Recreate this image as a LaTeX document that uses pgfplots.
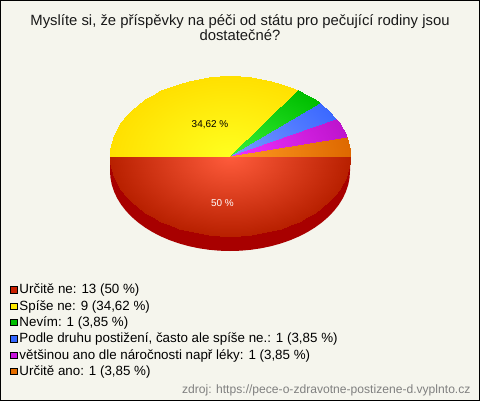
\documentclass[border=0pt]{standalone}
\usepackage{fontspec}
\setmainfont{Liberation Sans}
\usepackage{pgfplots}
\pgfplotsset{compat=1.18}
\definecolor{pagebg}{RGB}{245,245,237}
\definecolor{sidedark}{RGB}{168,0,0}
\definecolor{swred}{RGB}{200,32,0}
\definecolor{swyellow}{RGB}{255,235,0}
\definecolor{swgreen}{RGB}{0,190,0}
\definecolor{swblue}{RGB}{51,102,255}
\definecolor{swmagenta}{RGB}{200,20,220}
\definecolor{sworange}{RGB}{230,110,0}
\pgfplotsset{
    colormap={cred}{rgb255=(255,92,60) rgb255=(184,32,0)},
    colormap={cyellow}{rgb255=(255,255,32) rgb255=(255,224,0)},
    colormap={cgreen}{rgb255=(56,240,56) rgb255=(0,190,0)},
    colormap={cblue}{rgb255=(120,155,255) rgb255=(60,105,255)},
    colormap={cmagenta}{rgb255=(240,50,255) rgb255=(190,20,205)},
    colormap={corange}{rgb255=(255,155,35) rgb255=(222,105,0)},
    swatch/.style={legend image code/.code={
        \draw[black,line width=0.8bp,fill=#1] (0bp,-3.5bp) rectangle (6.5bp,3bp);}},
}

\begin{document}
\begin{tikzpicture}
    \begin{axis}[
        width=479bp, height=400bp, scale only axis,
        xmin=0.5, xmax=479.5,
        ymin=0.5, ymax=400.5,
        y dir=reverse,
        xtick=\empty, ytick=\empty,
        axis line style={black,line width=1bp},
        axis background/.style={fill=pagebg},
        clip=false,
        point meta min=0, point meta max=1,
        legend style={
            at={(axis cs:10,282)}, anchor=north west,
            draw=none, fill=none,
            font=\fontsize{13.4}{13.4}\selectfont,
            row sep=1.0bp,
            inner sep=0pt,
            /tikz/every even column/.style={column sep=3bp},
        },
        legend cell align=left,
        ]
        % side of the pie
        \addplot[fill=sidedark, draw=none, forget plot] coordinates {
            (110,156)(110,171)(110.46,177.97)(111.82,184.89)(114.09,191.71)(117.24,198.36)(121.24,204.81)
            (126.08,211)(131.70,216.89)(138.08,222.42)(145.15,227.57)(152.87,232.28)(161.17,236.53)
            (170,240.28)(179.29,243.50)(188.96,246.18)(198.94,248.27)(209.16,249.78)(219.54,250.70)
            (230,251)(240.46,250.70)(250.84,249.78)(261.06,248.27)(271.04,246.18)(280.71,243.50)
            (290,240.28)(298.83,236.53)(307.13,232.28)(314.85,227.57)(321.92,222.42)(328.30,216.89)
            (333.92,211)(338.76,204.81)(342.76,198.36)(345.91,191.71)(348.18,184.89)(349.54,177.97)
            (350,171)(350,156)
        };
        % red, 50 %
        \addplot[surf, shader=interp, colormap name=cred, mesh/rows=2, point meta=explicit, forget plot] coordinates {
            (230,156)[0](230,156)[0](230,156)[0](230,156)[0](230,156)[0](230,156)[0](230,156)[0](230,156)[0](230,156)[0]
            (230,156)[0](230,156)[0](230,156)[0](230,156)[0](230,156)[0](230,156)[0](230,156)[0](230,156)[0](230,156)[0]
            (230,156)[0](230,156)[0](230,156)[0](230,156)[0](230,156)[0](230,156)[0](230,156)[0](230,156)[0](230,156)[0]
            (230,156)[0](230,156)[0](230,156)[0](230,156)[0](230,156)[0](230,156)[0](230,156)[0](230,156)[0](230,156)[0]
            (230,156)[0]
            (110,156)[1](110.46,162.97)[1](111.82,169.89)[1](114.09,176.71)[1](117.24,183.36)[1](121.24,189.81)[1]
            (126.08,196)[1](131.70,201.89)[1](138.08,207.42)[1](145.15,212.57)[1](152.87,217.28)[1](161.17,221.53)[1]
            (170,225.28)[1](179.29,228.50)[1](188.96,231.18)[1](198.94,233.27)[1](209.16,234.78)[1](219.54,235.70)[1]
            (230,236)[1](240.46,235.70)[1](250.84,234.78)[1](261.06,233.27)[1](271.04,231.18)[1](280.71,228.50)[1]
            (290,225.28)[1](298.83,221.53)[1](307.13,217.28)[1](314.85,212.57)[1](321.92,207.42)[1](328.30,201.89)[1]
            (333.92,196)[1](338.76,189.81)[1](342.76,183.36)[1](345.91,176.71)[1](348.18,169.89)[1](349.54,162.97)[1]
            (350,156)[1]
        };
        % yellow, 34,62 %
        \addplot[surf, shader=interp, colormap name=cyellow, mesh/rows=2, point meta=explicit, forget plot] coordinates {
            (230,156)[0](230,156)[0](230,156)[0](230,156)[0](230,156)[0](230,156)[0](230,156)[0](230,156)[0](230,156)[0]
            (230,156)[0](230,156)[0](230,156)[0](230,156)[0](230,156)[0](230,156)[0](230,156)[0](230,156)[0](230,156)[0]
            (230,156)[0](230,156)[0](230,156)[0](230,156)[0](230,156)[0](230,156)[0](230,156)[0](230,156)[0]
            (110,156)[1](110.46,149.03)[1](111.82,142.11)[1](114.09,135.29)[1](117.24,128.64)[1](121.24,122.19)[1]
            (126.08,116)[1](131.70,110.11)[1](138.08,104.58)[1](145.15,99.43)[1](152.87,94.72)[1](161.17,90.47)[1]
            (170,86.72)[1](179.29,83.50)[1](188.96,80.82)[1](198.94,78.73)[1](209.16,77.22)[1](219.54,76.30)[1]
            (230,76)[1](240.46,76.30)[1](250.84,77.22)[1](261.06,78.73)[1](271.04,80.82)[1](280.71,83.50)[1]
            (290,86.72)[1](298.18,90.17)[1]
        };
        % green, blue, magenta, orange: 3,85 % each
        \addplot[surf, shader=interp, colormap name=cgreen, mesh/rows=2, point meta=explicit, forget plot] coordinates {
            (230,156)[0](230,156)[0](230,156)[0](230,156)[0]
            (298.18,90.17)[1](307.13,94.72)[1](314.85,99.43)[1](319.83,102.96)[1]
        };
        \addplot[surf, shader=interp, colormap name=cblue, mesh/rows=2, point meta=explicit, forget plot] coordinates {
            (230,156)[0](230,156)[0](230,156)[0](230,156)[0]
            (319.83,102.96)[1](321.92,104.58)[1](328.30,110.11)[1](336.26,118.82)[1]
        };
        \addplot[surf, shader=interp, colormap name=cmagenta, mesh/rows=2, point meta=explicit, forget plot] coordinates {
            (230,156)[0](230,156)[0](230,156)[0](230,156)[0]
            (336.26,118.82)[1](338.76,122.19)[1](342.76,128.64)[1](346.51,136.85)[1]
        };
        \addplot[surf, shader=interp, colormap name=corange, mesh/rows=2, point meta=explicit, forget plot] coordinates {
            (230,156)[0](230,156)[0](230,156)[0](230,156)[0]
            (346.51,136.85)[1](348.18,142.11)[1](349.54,149.03)[1](350,156)[1]
        };

        \addlegendimage{swatch=swred}
        \addlegendentry{Určitě ne: 13 (50 \%)}
        \addlegendimage{swatch=swyellow}
        \addlegendentry{Spíše ne: 9 (34,62 \%)}
        \addlegendimage{swatch=swgreen}
        \addlegendentry{Nevím: 1 (3,85 \%)}
        \addlegendimage{swatch=swblue}
        \addlegendentry{Podle druhu postižení, často ale spíše ne.: 1 (3,85 \%)}
        \addlegendimage{swatch=swmagenta}
        \addlegendentry{většinou ano dle náročnosti např léky: 1 (3,85 \%)}
        \addlegendimage{swatch=sworange}
        \addlegendentry{Určitě ano: 1 (3,85 \%)}

        \node[align=center, font=\fontsize{14.9}{14.5}\selectfont, color=black!90]
            at (axis cs:240,27.5) {Myslíte si, že příspěvky na péči od státu pro pečující rodiny jsou\\dostatečné?};
        \node[font=\fontsize{10}{10}\selectfont] at (axis cs:210,125) {34,62 \%};
        \node[font=\fontsize{10}{10}\selectfont, white] at (axis cs:222.5,203.5) {50 \%};
        \node[anchor=east, font=\fontsize{12.15}{12.15}\selectfont, color=black!50]
            at (axis cs:474,390) {zdroj: https://pece-o-zdravotne-postizene-d.vyplnto.cz};
    \end{axis}
\end{tikzpicture}
\end{document}
